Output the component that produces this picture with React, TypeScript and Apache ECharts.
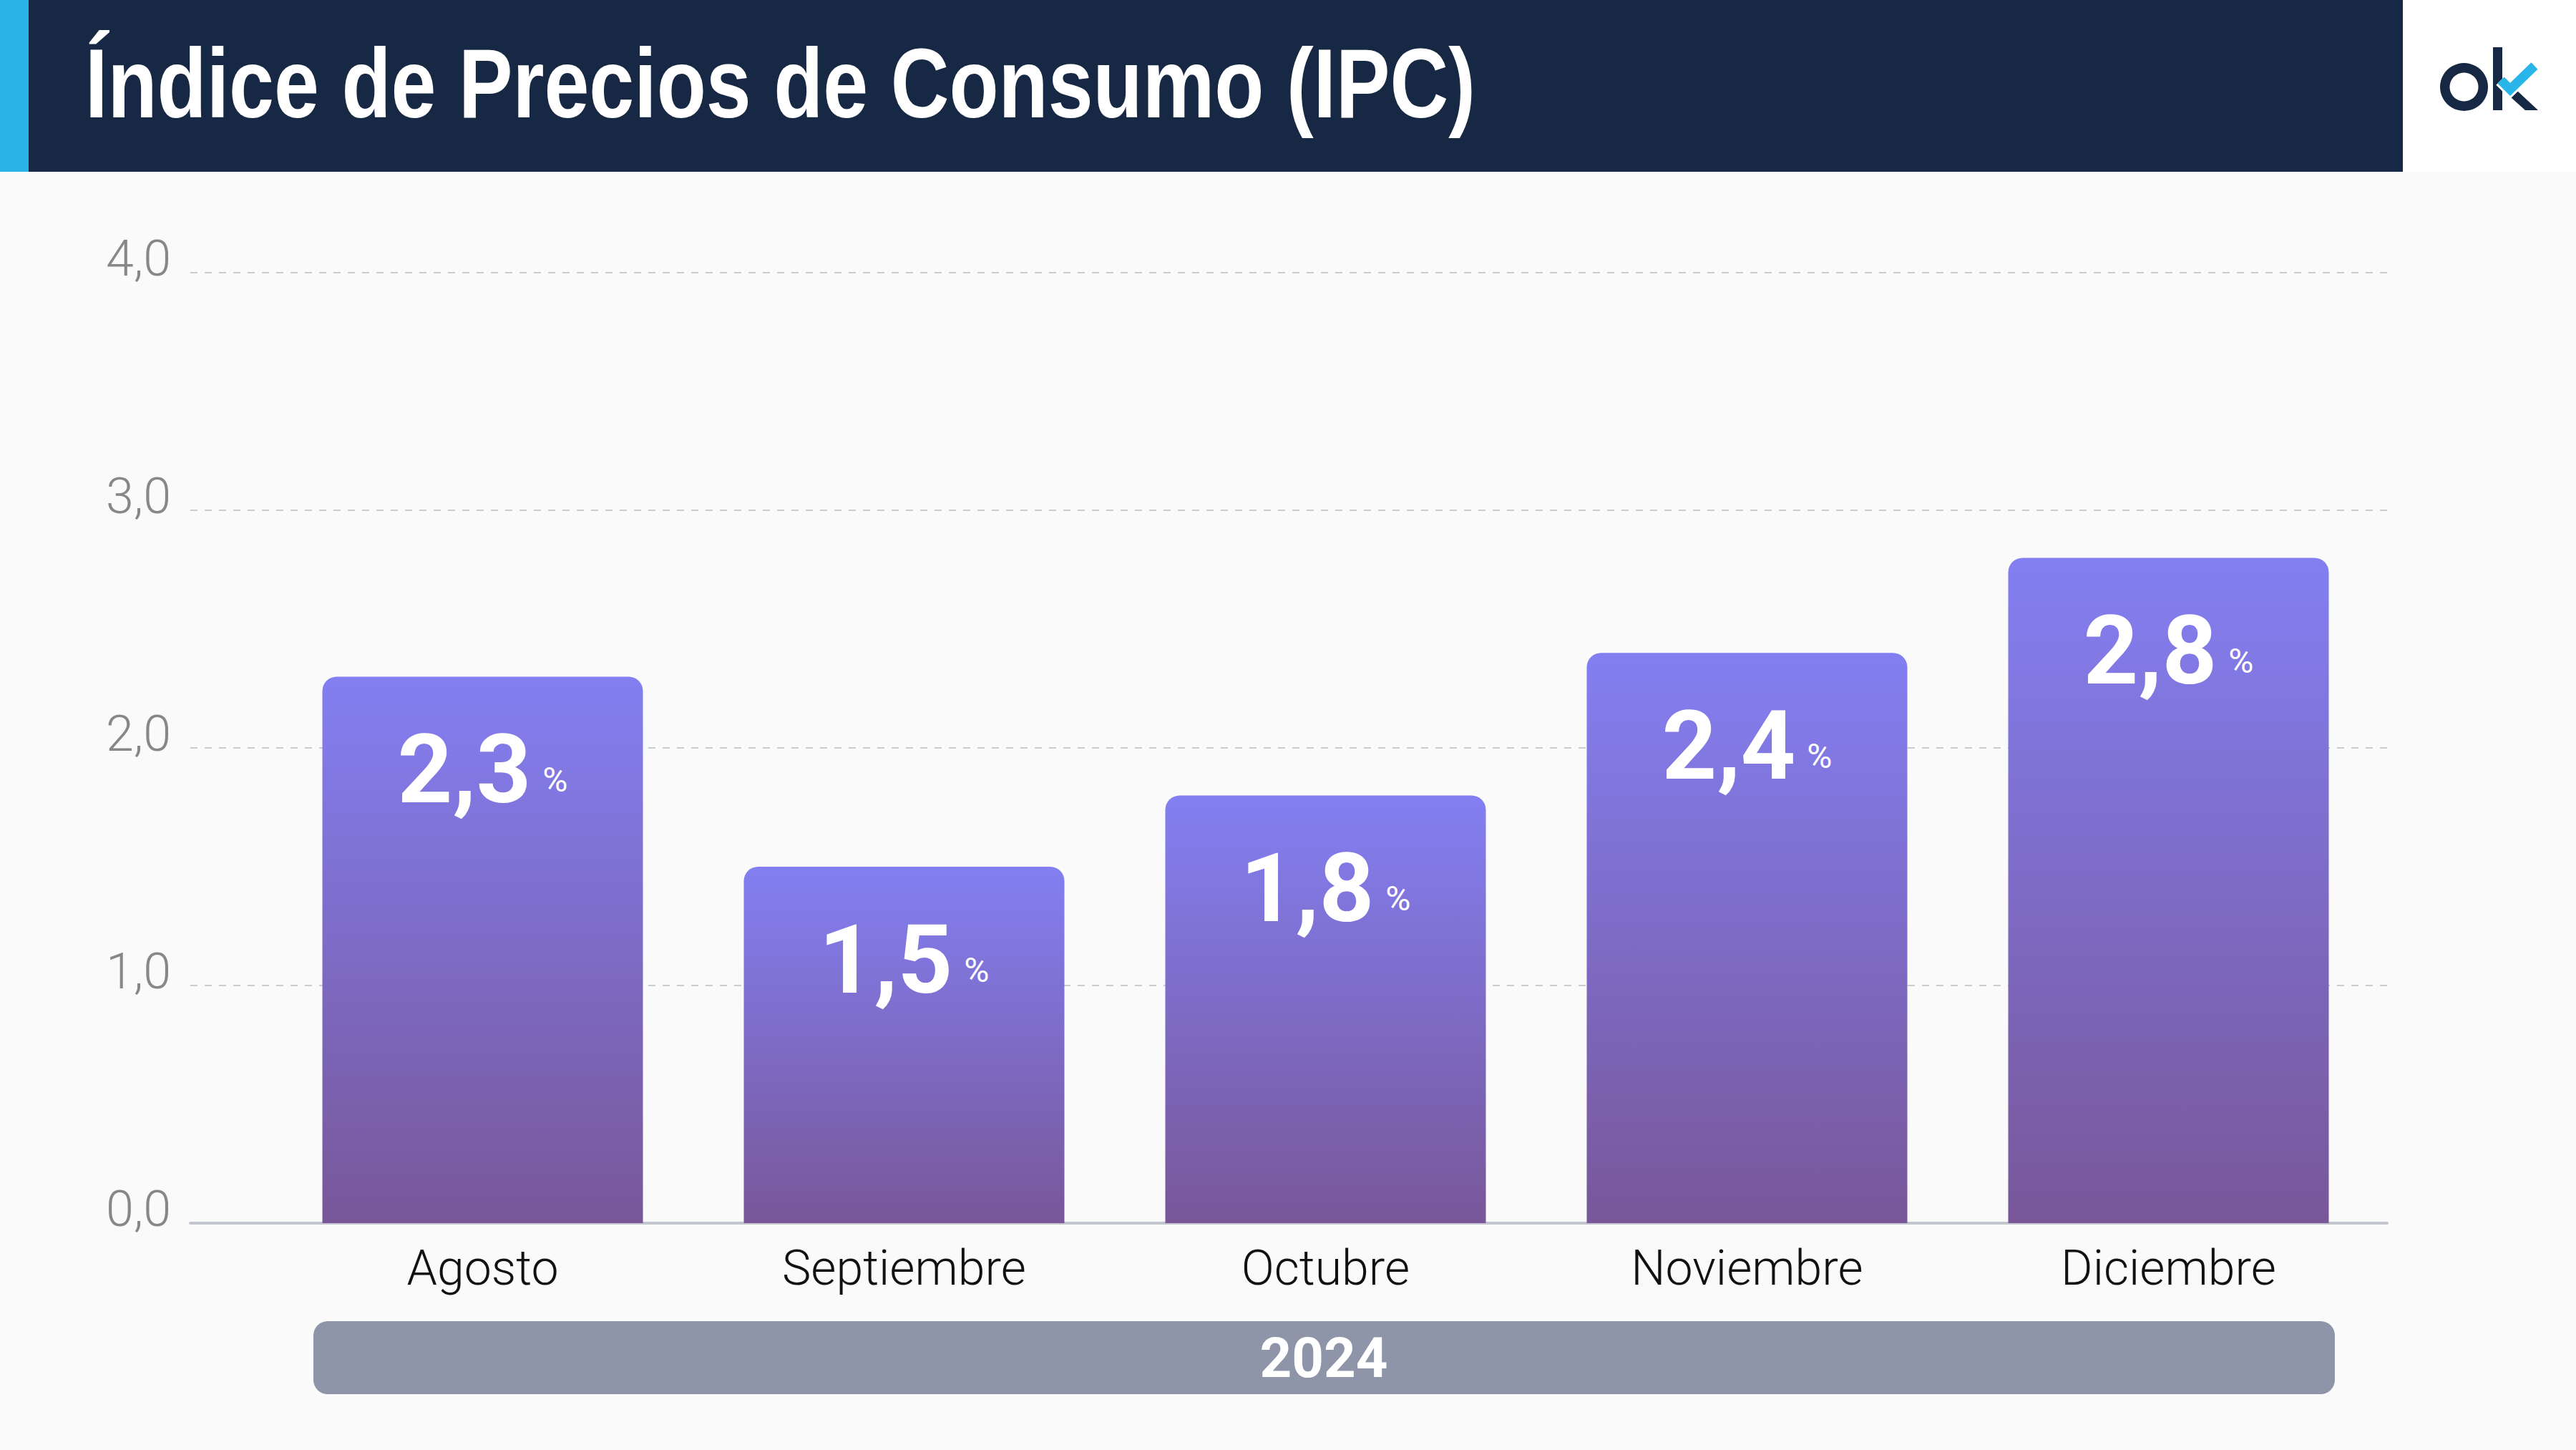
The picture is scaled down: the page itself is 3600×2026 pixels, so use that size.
import React, { useEffect, useRef } from 'react';
import * as echarts from 'echarts';

const months = ['Agosto', 'Septiembre', 'Octubre', 'Noviembre', 'Diciembre'];
const ipcValues = [2.3, 1.5, 1.8, 2.4, 2.8];
const yearLabel = '2024';
const titleText = 'Índice de Precios de Consumo (IPC)';
const yMin = 0;
const yMax = 4;
const yStep = 1;

const fmt = (v: number) => v.toFixed(1).replace('.', ',');

const NAVY = '#162843';
const CYAN = '#29b5e8';

export default function App() {
  const ref = useRef<HTMLDivElement>(null);
  useEffect(() => {
    const chart = echarts.init(ref.current!, null, { renderer: 'svg' });
    chart.setOption({
      animation: false,
      backgroundColor: '#fafafa',
      grid: [
        { left: 266, right: 264, top: 381, bottom: 317 },
        { left: 380, right: 275, top: 381, bottom: 317 },
      ],
      xAxis: [
        {
          type: 'value', gridIndex: 0, min: 0, max: 1,
          axisLine: { show: true, lineStyle: { color: '#c3c6ce', width: 4 } },
          axisTick: { show: false }, axisLabel: { show: false }, splitLine: { show: false },
        },
        {
          type: 'category', gridIndex: 1, data: months,
          axisLine: { show: false }, axisTick: { show: false },
          axisLabel: {
            fontFamily: 'Roboto', fontWeight: 300, fontSize: 68, color: '#111111', margin: 29,
          },
        },
      ],
      yAxis: [
        {
          type: 'value', gridIndex: 0, min: yMin, max: yMax, interval: yStep,
          axisLine: { show: false }, axisTick: { show: false },
          splitLine: { show: true, lineStyle: { type: [10, 10], color: '#c8ccd3', width: 2 } },
          axisLabel: {
            fontFamily: 'Roboto', fontWeight: 300, fontSize: 70, color: '#878787', margin: 27,
            verticalAlign: 'bottom', lineHeight: 40,
            formatter: (v: number) => fmt(v),
          },
        },
        { type: 'value', gridIndex: 1, min: yMin, max: yMax, interval: yStep, show: false, splitLine: { show: false } },
      ],
      series: [
        {
          type: 'bar', xAxisIndex: 1, yAxisIndex: 1, data: ipcValues, barWidth: 448,
          itemStyle: {
            borderRadius: [20, 20, 0, 0],
            color: new echarts.graphic.LinearGradient(0, 0, 0, 1, [
              { offset: 0, color: '#837ff2' },
              { offset: 1, color: '#785799' },
            ]),
          },
          label: {
            show: true, position: 'insideTop', distance: 63,
            formatter: (p: any) => `{v|${fmt(p.value)}}{p|%}`,
            rich: {
              v: { fontFamily: 'Roboto', fontWeight: 'bold', fontSize: 134, color: '#ffffff' },
              p: { fontFamily: 'Roboto', fontWeight: 400, fontSize: 48, color: '#ffffff', padding: [28, 0, 0, 16] },
            },
          },
        },
      ],
      graphic: [
        { type: 'rect', shape: { x: 0, y: 0, width: 3358, height: 240 }, style: { fill: NAVY } },
        { type: 'rect', shape: { x: 0, y: 0, width: 40, height: 240 }, style: { fill: CYAN } },
        { type: 'rect', shape: { x: 3358, y: 0, width: 242, height: 240 }, style: { fill: '#ffffff' } },
        {
          type: 'text', x: 119, y: 116, scaleX: 0.82,
          style: {
            text: titleText, fill: '#ffffff', fontFamily: 'Liberation Sans', fontWeight: 'bold', fontSize: 138,
            verticalAlign: 'middle', align: 'left',
          },
        },
        // logo
        { type: 'ring', shape: { cx: 3443.5, cy: 121.5, r: 33.5, r0: 20 }, style: { fill: NAVY } },
        { type: 'rect', shape: { x: 3484, y: 66, width: 13, height: 88 }, style: { fill: NAVY } },
        { type: 'polygon', shape: { points: [[3509, 136], [3518, 127], [3547, 154], [3529, 154]] }, style: { fill: NAVY } },
        {
          type: 'polyline', shape: { points: [[3495, 112], [3508, 125], [3542, 92]] },
          style: { stroke: '#ffffff', lineWidth: 19, fill: 'none', lineJoin: 'miter', lineCap: 'butt' },
        },
        {
          type: 'polyline', shape: { points: [[3495, 112], [3508, 125], [3542, 92]] },
          style: { stroke: CYAN, lineWidth: 13, fill: 'none', lineJoin: 'miter', lineCap: 'butt' },
        },
        // year band
        { type: 'rect', shape: { x: 438, y: 1846, width: 2825, height: 102, r: 20 }, style: { fill: '#8e95a8' } },
        {
          type: 'text', x: 1850, y: 1897,
          style: {
            text: yearLabel, fill: '#ffffff', fontFamily: 'Roboto', fontWeight: 'bold', fontSize: 78,
            align: 'center', verticalAlign: 'middle',
          },
        },
      ],
    });
    return () => chart.dispose();
  }, []);
  return <div ref={ref} style={{ position: 'fixed', left: 0, top: 0, width: 3600, height: 2026 }} />;
}
